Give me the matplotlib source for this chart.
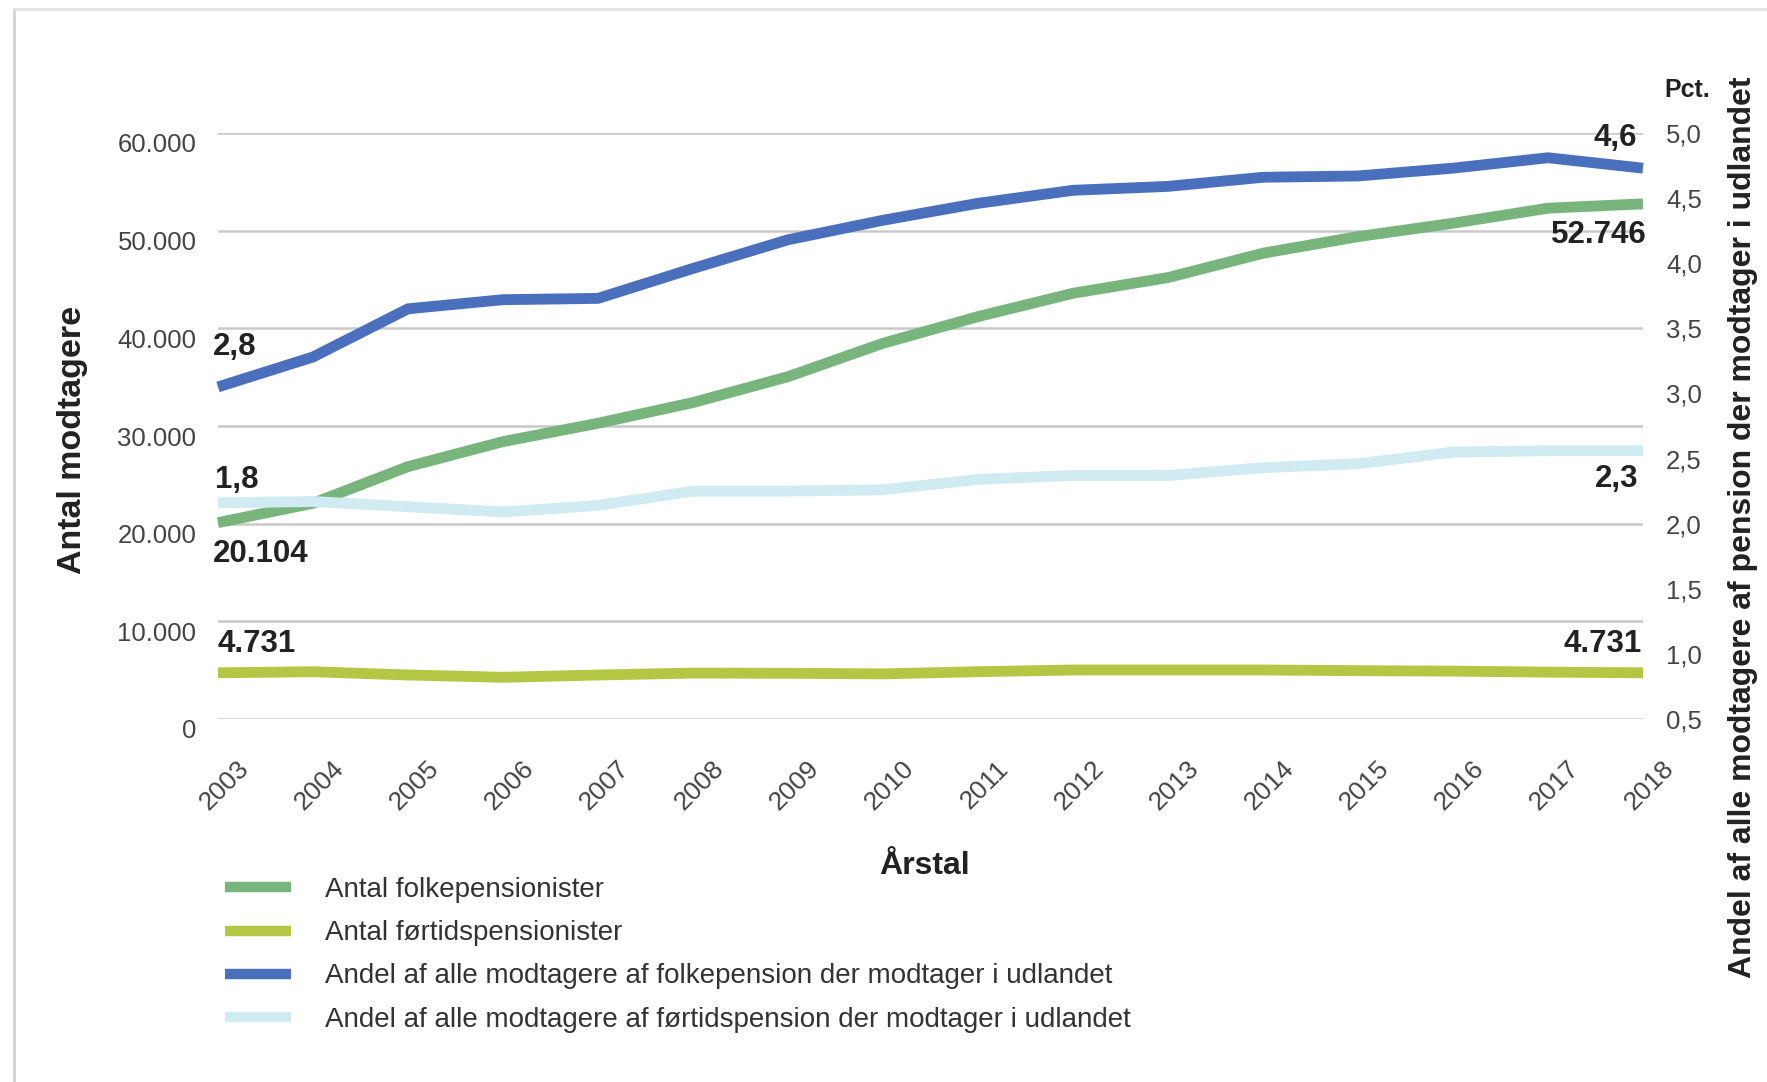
import matplotlib
matplotlib.use('Agg')
import matplotlib.pyplot as plt
import matplotlib.transforms as mtransforms
from matplotlib.lines import Line2D

plt.rcParams['font.family'] = ['Liberation Sans', 'DejaVu Sans']

# data
years = list(range(2003, 2019))
folkepension = [20104, 22090, 25840, 28400, 30280, 32400, 35050, 38470,
                41200, 43590, 45200, 47690, 49390, 50760, 52300, 52746]
foertidspension = [4731, 4840, 4505, 4270, 4505, 4700, 4680, 4620,
                   4840, 5020, 5020, 5020, 4950, 4900, 4800, 4731]
andel_folke = [3.05, 3.28, 3.65, 3.72, 3.73, 3.96, 4.18, 4.33,
               4.46, 4.56, 4.59, 4.66, 4.67, 4.73, 4.81, 4.73]
andel_foertid = [2.16, 2.17, 2.13, 2.09, 2.14, 2.25, 2.25, 2.26,
                 2.34, 2.37, 2.37, 2.43, 2.46, 2.55, 2.56, 2.56]

left_ticks = [0, 10000, 20000, 30000, 40000, 50000, 60000]
right_ticks = [0.5, 1.0, 1.5, 2.0, 2.5, 3.0, 3.5, 4.0, 4.5, 5.0]

series_names = ['Antal folkepensionister',
                'Antal førtidspensionister',
                'Andel af alle modtagere af folkepension der modtager i udlandet',
                'Andel af alle modtagere af førtidspension der modtager i udlandet']
start_labels = ['20.104', '4.731', '2,8', '1,8']
end_labels = ['52.746', '4.731', '4,6', '2,3']

colors = ['#77b57c', '#b3c744', '#4a70bd', '#d0ebf1']

W, H = 1767, 1082
fig = plt.figure(figsize=(W / 100, H / 100), dpi=100)
ax = fig.add_axes([218 / W, 1 - 719 / H, 1425 / W, 586 / H])
ax2 = ax.twinx()

lw = 7.8
l1, = ax.plot(years, folkepension, color=colors[0], lw=lw, solid_capstyle='butt', clip_on=False)
l2, = ax.plot(years, foertidspension, color=colors[1], lw=lw, solid_capstyle='butt', clip_on=False)
l4, = ax2.plot(years, andel_foertid, color=colors[3], lw=lw, solid_capstyle='butt', clip_on=False)
l3, = ax2.plot(years, andel_folke, color=colors[2], lw=lw, solid_capstyle='butt', clip_on=False)

ax.set_xlim(years[0], years[-1])
ax.set_ylim(0, 60000)
ax2.set_ylim(0.5, 5.0)

for a in (ax, ax2):
    for s in a.spines.values():
        s.set_visible(False)
    a.tick_params(length=0)

ax.set_yticks(left_ticks)
ax.set_yticklabels(['{:,}'.format(v).replace(',', '.') for v in left_ticks],
                   fontsize=18.5, color='#444444')
ax.tick_params(axis='y', pad=15.5)
ax.yaxis.grid(True, color='#c9c9c9', lw=1.8)
ax.set_axisbelow(True)
down = mtransforms.ScaledTranslation(0, -0.10, fig.dpi_scale_trans)
for lab in ax.get_yticklabels():
    lab.set_transform(lab.get_transform() + down)

ax2.set_yticks(right_ticks)
ax2.set_yticklabels(['{:.1f}'.format(v).replace('.', ',') for v in right_ticks],
                    fontsize=18.5, color='#444444')
ax2.tick_params(axis='y', pad=16.5)

ax.set_xticks(years)
ax.set_xticklabels([str(y) for y in years], fontsize=19, color='#444444',
                   rotation=45, ha='right', va='center', rotation_mode='anchor')
ax.tick_params(axis='x', pad=33)
shift = mtransforms.ScaledTranslation(0.27, 0, fig.dpi_scale_trans)
for lab in ax.get_xticklabels():
    lab.set_transform(lab.get_transform() + shift)

# value labels at both ends of each line
lab_kw = dict(textcoords='offset pixels', fontsize=22.5, fontweight='bold',
              color='#222222', va='center')
series = [(ax, folkepension), (ax, foertidspension), (ax2, andel_folke), (ax2, andel_foertid)]
start_off = [(-5, -31), (-1, 29), (-5, 40), (-3, 23)]
end_off = [(4, -31), (-1, 29), (-6, 30), (-5, -28)]
for (a, vals), s_txt, e_txt, so, eo in zip(series, start_labels, end_labels, start_off, end_off):
    a.annotate(s_txt, (years[0], vals[0]), xytext=so, ha='left', **lab_kw)
    a.annotate(e_txt, (years[-1], vals[-1]), xytext=eo, ha='right', **lab_kw)

# axis titles
fig.text(72 / W, 1 - 440 / H, 'Antal modtagere', rotation=90, ha='center', va='center',
         fontsize=24.5, fontweight='bold', color='#222222')
fig.text(1743 / W, 1 - 527 / H, 'Andel af alle modtagere af pension der modtager i udlandet',
         rotation=90, ha='center', va='center', fontsize=23, fontweight='bold', color='#222222')
fig.text(1687 / W, 1 - 90 / H, 'Pct.', ha='center', va='center',
         fontsize=18, fontweight='bold', color='#222222')
fig.text(924 / W, 1 - 866 / H, 'Årstal', ha='center', va='center',
         fontsize=23, fontweight='bold', color='#222222')

leg = ax.legend([l1, l2, l3, l4], series_names, loc='upper left',
                bbox_to_anchor=(225 / W, 1 - 877 / H), bbox_transform=fig.transFigure,
                frameon=False, fontsize=20, handlelength=2.37, handletextpad=1.22,
                labelspacing=0.62, borderpad=0, borderaxespad=0)
for t in leg.get_texts():
    t.set_color('#333333')
for h in leg.get_lines():
    h.set_linewidth(7.5)

# thin page frame seen at the left and top of the picture
fig.add_artist(Line2D([14 / W, 14 / W], [0, 1 - 9 / H], transform=fig.transFigure,
                      color='#d2d2d2', lw=2))
fig.add_artist(Line2D([14 / W, 1], [1 - 9 / H, 1 - 9 / H], transform=fig.transFigure,
                      color='#e2e2e2', lw=2))

fig.savefig('out.png', dpi=100)
